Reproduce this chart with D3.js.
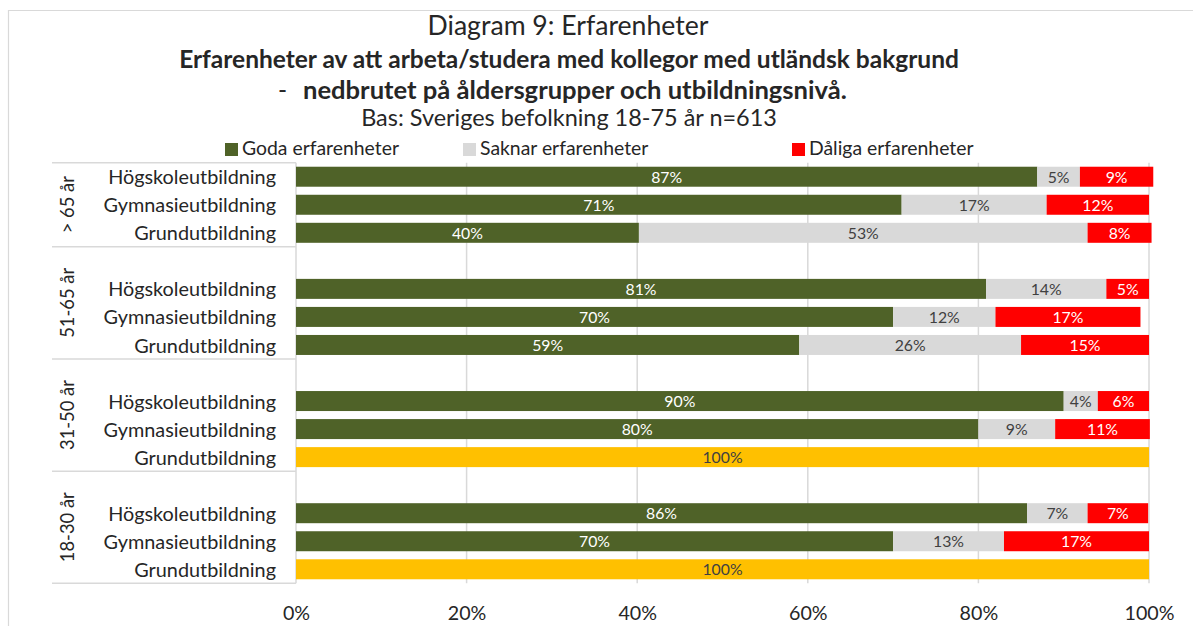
<!DOCTYPE html>
<html><head><meta charset="utf-8">
<script src="https://cdn.jsdelivr.net/npm/d3@7"></script>
<style>html,body{margin:0;padding:0;background:#fff;overflow:hidden}</style>
</head><body>
<svg id="c" width="1193" height="626"></svg>
<script>
// ---------------- data ----------------
const groups = ["> 65 år", "51-65 år", "31-50 år", "18-30 år"];
const levels = ["Högskoleutbildning", "Gymnasieutbildning", "Grundutbildning"];
const seriesNames = ["Goda erfarenheter", "Saknar erfarenheter", "Dåliga erfarenheter"];
// rows in order: group (top to bottom) x level (top to bottom)
const goda   = [86.9, 71.0, 40.2,  80.9, 70.0, 59.0,  90.0, 80.0, 0,    85.7, 70.0, 0];
const saknar = [5.0, 17.0, 52.6,   14.1, 12.0, 26.0,  4.0, 9.0, 0,      7.1, 13.0, 0];
const daliga = [8.6, 12.0, 7.5,    5.0, 17.0, 15.0,   6.0, 11.1, 0,     7.1, 17.0, 0];
const ovrigt = [0, 0, 0,           0, 0, 0,           0, 0, 100,        0, 0, 100];
const xTicks = [0, 20, 40, 60, 80, 100];
const title1 = "Diagram 9: Erfarenheter";
const title2 = "Erfarenheter av att arbeta/studera med kollegor med utländsk bakgrund";
const title3a = "-";
const title3b = "nedbrutet på åldersgrupper och utbildningsnivå.";
const title4 = "Bas: Sveriges befolkning 18-75 år n=613";

// ---------------- setup ----------------
const FONT = "Lato, 'Open Sans', sans-serif";
const svg = d3.select("#c");
const textCol = "#262626";
const gridCol = "#d9d9d9";

function fit(text, weight, target) {
  const t = svg.append("text").attr("font-family", FONT).attr("font-weight", weight)
    .attr("font-size", 100).text(text);
  const w = t.node().getComputedTextLength();
  t.remove();
  return 100 * target / w;
}

// outer chart border (only left/top visible)
svg.append("path").attr("d", "M8.5,626 V10.5 H1193").attr("fill", "none")
  .attr("stroke", gridCol).attr("stroke-width", 1.2);

// rows
const rowKeys = [];
const rows = [];
groups.forEach((g, gi) => {
  if (gi > 0) rowKeys.push("blank" + gi);
  levels.forEach((l, li) => {
    const i = gi * 3 + li;
    const key = g + "|" + l;
    rowKeys.push(key);
    rows.push({key, group: g, level: l, goda: goda[i], saknar: saknar[i], daliga: daliga[i], ovrigt: ovrigt[i]});
  });
});

const yTop = 162.7, yBottom = 583.3;
const y = d3.scaleBand().domain(rowKeys).range([yTop, yBottom]).paddingInner(0.287).paddingOuter(0.1435);
const x = d3.scaleLinear().domain([0, 100]).range([296, 1149]);

// gridlines
svg.append("g").selectAll("line").data(xTicks.filter(d => d > 0)).join("line")
  .attr("x1", d => x(d)).attr("x2", d => x(d)).attr("y1", yTop).attr("y2", yBottom)
  .attr("stroke", gridCol).attr("stroke-width", 1.5);

// category table lines
const stepY = y.step();
const groupBounds = [];
groups.forEach((g, gi) => {
  const firstKey = gi > 0 ? "blank" + gi : g + "|" + levels[0];
  const lastKey = g + "|" + levels[2];
  const y0 = y(firstKey) - y.paddingInner() * stepY / 2;
  const y1 = y(lastKey) + y.bandwidth() + y.paddingInner() * stepY / 2;
  groupBounds.push([y0, y1]);
});
const hLines = [yTop].concat(groupBounds.map(b => b[1]));
svg.append("g").selectAll("line").data(hLines).join("line")
  .attr("x1", 52).attr("x2", x(0)).attr("y1", d => d).attr("y2", d => d)
  .attr("stroke", gridCol).attr("stroke-width", 1.5);
svg.append("line").attr("x1", x(0)).attr("x2", x(0)).attr("y1", yTop).attr("y2", yBottom)
  .attr("stroke", gridCol).attr("stroke-width", 1.5);

// bars
const keys = ["goda", "saknar", "daliga", "ovrigt"];
const colors = {goda: "#4f6228", saknar: "#d9d9d9", daliga: "#ff0000", ovrigt: "#ffc000"};
const labelColors = {goda: "#ffffff", saknar: "#404040", daliga: "#ffffff", ovrigt: "#404040"};
const stacked = d3.stack().keys(keys)(rows);
const labelSize = fit("53%", 400, 31);
const gBars = svg.append("g");
stacked.forEach(layer => {
  const k = layer.key;
  const segs = layer.filter(d => d[1] - d[0] > 0);
  gBars.append("g").selectAll("rect").data(segs).join("rect")
    .attr("x", d => x(d[0])).attr("width", d => x(d[1]) - x(d[0]))
    .attr("y", d => y(d.data.key)).attr("height", y.bandwidth())
    .attr("fill", colors[k]);
  gBars.append("g").selectAll("text").data(segs).join("text")
    .attr("x", d => (x(d[0]) + x(d[1])) / 2)
    .attr("y", d => y(d.data.key) + y.bandwidth() / 2)
    .attr("dy", "0.37em")
    .attr("text-anchor", "middle")
    .attr("font-family", FONT).attr("font-size", labelSize)
    .attr("fill", labelColors[k])
    .text(d => Math.round(d[1] - d[0]) + "%");
});

// category labels
const catSize = fit("Högskoleutbildning", 400, 168);
svg.append("g").selectAll("text").data(rows).join("text")
  .attr("x", 276).attr("y", d => y(d.key) + y.bandwidth() / 2).attr("dy", "0.38em")
  .attr("text-anchor", "end").attr("font-family", FONT).attr("font-size", catSize)
  .attr("fill", textCol).text(d => d.level);

// group labels
const grpSize = fit("51-65 år", 400, 70);
svg.append("g").selectAll("text").data(groups).join("text")
  .attr("transform", (d, i) => `translate(74,${(groupBounds[i][0] + groupBounds[i][1]) / 2}) rotate(-90)`)
  .attr("text-anchor", "middle").attr("font-family", FONT).attr("font-size", grpSize)
  .attr("fill", textCol).text(d => d);

// x axis
const axSize = fit("100%", 400, 50);
const ax = svg.append("g").attr("transform", `translate(0,${yBottom})`)
  .call(d3.axisBottom(x).tickValues(xTicks).tickFormat(d => d + "%").tickSize(0).tickPadding(0));
ax.select(".domain").remove();
ax.selectAll("text").attr("font-family", FONT).attr("font-size", axSize).attr("fill", textCol)
  .attr("dy", null).attr("y", 620 - yBottom);

// titles
const cx = 568;
const t1 = fit(title1, 400, 281);
svg.append("text").attr("x", cx).attr("y", 35).attr("text-anchor", "middle")
  .attr("font-family", FONT).attr("font-size", t1).attr("fill", textCol).text(title1);
const t2 = fit(title2, 700, 780);
svg.append("text").attr("x", 569).attr("y", 68).attr("text-anchor", "middle")
  .attr("font-family", FONT).attr("font-size", t2).attr("font-weight", 700).attr("fill", textCol).text(title2);
svg.append("text").attr("x", 278).attr("y", 99)
  .attr("font-family", FONT).attr("font-size", t2).attr("fill", textCol).text(title3a);
const t3 = fit(title3b, 700, 544);
svg.append("text").attr("x", 303).attr("y", 99)
  .attr("font-family", FONT).attr("font-size", t3).attr("font-weight", 700).attr("fill", textCol).text(title3b);
const t4 = fit(title4, 400, 416);
svg.append("text").attr("x", 569).attr("y", 126).attr("text-anchor", "middle")
  .attr("font-family", FONT).attr("font-size", t4).attr("fill", textCol).text(title4);

// legend
const legSize = fit(seriesNames[0], 400, 157);
const legX = [225, 463, 792];
const legCols = [colors.goda, colors.saknar, colors.daliga];
const leg = svg.append("g").selectAll("g").data(seriesNames).join("g")
  .attr("transform", (d, i) => `translate(${legX[i]},0)`);
leg.append("rect").attr("x", 0).attr("y", 143).attr("width", 13).attr("height", 13)
  .attr("fill", (d, i) => legCols[i]);
leg.append("text").attr("x", 17).attr("y", 155).attr("font-family", FONT)
  .attr("font-size", legSize).attr("fill", textCol).text(d => d);
</script>
</body></html>
